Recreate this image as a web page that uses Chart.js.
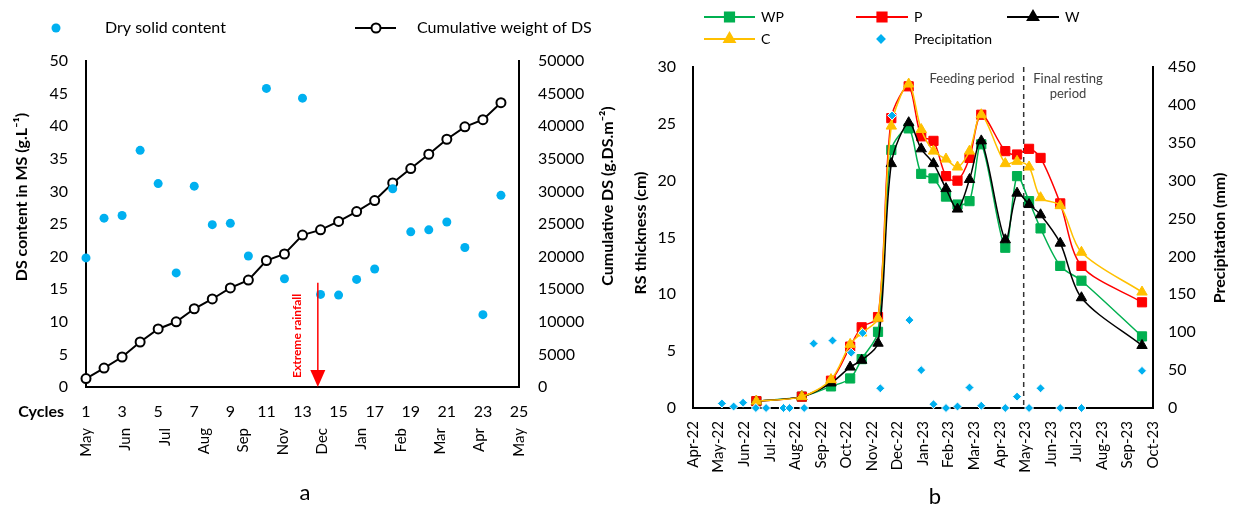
<!DOCTYPE html>
<html>
<head>
<meta charset="utf-8">
<script src="https://cdn.jsdelivr.net/npm/chart.js@4.4.1/dist/chart.umd.min.js"></script>
<style>
  html, body { margin: 0; padding: 0; background: #fff; }
  body { width: 1235px; height: 512px; position: relative; overflow: hidden; }
  #chartA { position: absolute; left: 0; top: 0; }
  #chartB { position: absolute; left: 600px; top: 0; }
</style>
</head>
<body>
<canvas id="chartA" width="640" height="512" style="width:640px;height:512px"></canvas>
<canvas id="chartB" width="635" height="512" style="width:635px;height:512px"></canvas>
<script>
// ---- panel a ----
const cycles = [1, 2, 3, 4, 5, 6, 7, 8, 9, 10, 11, 12, 13, 14, 15, 16, 17, 18, 19, 20, 21, 22, 23, 24];
const dryContent = [19.8, 25.9, 26.3, 36.3, 31.2, 17.5, 30.8, 24.9, 25.1, 20.1, 45.8, 16.6,
  44.3, 14.2, 14.1, 16.5, 18.1, 30.4, 23.8, 24.1, 25.3, 21.4, 11.1, 29.4];
const cumulativeDS = [1300, 2900, 4600, 6900, 8900, 10000, 12000, 13500, 15200, 16400, 19400, 20400,
  23300, 24100, 25400, 26900, 28600, 31300, 33500, 35700, 38000, 39900, 41000, 43600];
const cycleMonths = ["May", "Jun", "Jul", "Aug", "Sep", "Nov", "Dec", "Jan", "Feb", "Mar", "Apr", "May"];
const rainfallCycle = 13.85;
const rainfallFrom = 16;

// ---- panel b ----
const monthTicks = ["Apr-22", "May-22", "Jun-22", "Jul-22", "Aug-22", "Sep-22", "Oct-22", "Nov-22", "Dec-22",
  "Jan-23", "Feb-23", "Mar-23", "Apr-23", "May-23", "Jun-23", "Jul-23", "Aug-23", "Sep-23", "Oct-23"];
// months elapsed since 1 Apr 2022
const sampleMonths = [2.48, 4.26, 5.40, 6.15, 6.60, 7.24, 7.76, 8.44, 8.93, 9.41, 9.90, 10.35, 10.82,
  11.28, 12.22, 12.68, 13.15, 13.60, 14.37, 15.20, 17.57];
const wpThickness = [0.6, 1.0, 1.9, 2.6, 4.3, 6.7, 22.7, 24.6, 20.6, 20.2, 18.6, 17.9, 18.2,
  23.2, 14.1, 20.4, 18.2, 15.8, 12.5, 11.2, 6.3];
const pThickness = [0.6, 1.0, 2.4, 5.4, 7.1, 8.0, 25.5, 28.3, 23.9, 23.5, 20.4, 20.0, 22.0,
  25.8, 22.6, 22.3, 22.8, 22.0, 18.0, 12.5, 9.3];
const wThickness = [0.6, 1.0, 2.2, 3.6, 4.2, 5.7, 21.5, 25.1, 22.8, 21.5, 19.3, 17.5, 20.1,
  23.5, 14.8, 18.9, 17.9, 17.0, 14.5, 9.7, 5.5];
const cThickness = [0.6, 1.0, 2.5, 5.6, 6.6, 7.9, 24.8, 28.5, 24.5, 22.6, 21.9, 21.2, 22.6,
  25.8, 21.5, 21.7, 21.2, 18.5, 17.8, 13.7, 10.2];
const precipMonths = [1.13, 1.59, 1.96, 2.46, 2.86, 3.54, 3.78, 4.35, 4.72, 5.46, 6.19, 6.64, 7.33, 7.79,
  8.47, 8.93, 9.41, 9.90, 10.35, 10.82, 11.28, 12.22, 12.68, 13.15, 13.60, 14.37, 15.20, 17.57];
const precipitation = [6, 2, 7, 0, 0, 0, 0, 0, 85, 89, 73, 99, 26, 386,
  116, 50, 5, 0, 2, 27, 3, 0, 15, 0, 26, 0, 0, 49];
const feedingEnd = 12.94;

Chart.defaults.font.family = "Lato, 'Open Sans', sans-serif";
Chart.defaults.color = "#000";

const pts = (xs, ys) => xs.map((x, i) => ({ x: x, y: ys[i] }));

function vText(ctx, text, x, y, font, color) {
  ctx.save();
  ctx.translate(x, y);
  ctx.rotate(-Math.PI / 2);
  ctx.font = font;
  ctx.fillStyle = color || "#000";
  ctx.textAlign = "center";
  ctx.textBaseline = "middle";
  ctx.fillText(text, 0, 0);
  ctx.restore();
}

function text(ctx, str, x, y, font, align, color) {
  ctx.save();
  ctx.font = font;
  ctx.fillStyle = color || "#000";
  ctx.textAlign = align || "left";
  ctx.textBaseline = "middle";
  ctx.fillText(str, x, y);
  ctx.restore();
}

function legendLine(ctx, x1, x2, y, color, style, radius) {
  ctx.save();
  ctx.strokeStyle = color;
  ctx.fillStyle = color;
  ctx.lineWidth = 2;
  if (x2 > x1) {
    ctx.beginPath();
    ctx.moveTo(x1, y);
    ctx.lineTo(x2, y);
    ctx.stroke();
  }
  Chart.helpers.drawPoint(ctx, { pointStyle: style, radius: radius, borderWidth: 1, rotation: 0 }, (x1 + x2) / 2, y);
  ctx.restore();
}

const decorA = {
  id: "decorA",
  afterDatasetsDraw(chart) {
    const ctx = chart.ctx;
    const x = chart.scales.x, y = chart.scales.y;
    const ax = x.getPixelForValue(rainfallCycle);
    const top = y.getPixelForValue(rainfallFrom);
    const bot = y.getPixelForValue(0);
    ctx.save();
    ctx.strokeStyle = "#FF0000";
    ctx.fillStyle = "#FF0000";
    ctx.lineWidth = 1.5;
    ctx.beginPath();
    ctx.moveTo(ax, top);
    ctx.lineTo(ax, bot - 15);
    ctx.stroke();
    ctx.beginPath();
    ctx.moveTo(ax - 7.5, bot - 17);
    ctx.lineTo(ax + 7.5, bot - 17);
    ctx.lineTo(ax, bot);
    ctx.closePath();
    ctx.fill();
    ctx.restore();
    vText(ctx, "Extreme rainfall", ax - 21, (top + bot) / 2 + 1, "bold 12px Lato, sans-serif", "#FF0000");
  },
  afterDraw(chart) {
    const ctx = chart.ctx;
    vText(ctx, "DS content in MS (g.L\u207B\u00B9)", 22, 197, "bold 16px Lato, sans-serif");
    vText(ctx, "Cumulative DS (g.DS.m\u207B\u00B2)", 608, 196, "bold 16px Lato, sans-serif");
    text(ctx, "Cycles", 64, 412, "bold 16px Lato, sans-serif", "right");
    text(ctx, "a", 305, 493, "22px Lato, sans-serif", "center");
    // legend
    ctx.save();
    ctx.fillStyle = "#00B0F0";
    ctx.beginPath();
    ctx.arc(56, 28, 4.5, 0, Math.PI * 2);
    ctx.fill();
    ctx.strokeStyle = "#000";
    ctx.lineWidth = 2;
    ctx.beginPath();
    ctx.moveTo(355, 28);
    ctx.lineTo(396, 28);
    ctx.stroke();
    ctx.fillStyle = "#fff";
    ctx.beginPath();
    ctx.arc(376, 28, 4.5, 0, Math.PI * 2);
    ctx.fill();
    ctx.stroke();
    ctx.restore();
    text(ctx, "Dry solid content", 105, 28, "16px Lato, sans-serif");
    text(ctx, "Cumulative weight of DS", 417, 28, "16px Lato, sans-serif");
  }
};

new Chart(document.getElementById("chartA"), {
  type: "scatter",
  data: {
    datasets: [
      {
        label: "Dry solid content",
        data: pts(cycles, dryContent),
        xAxisID: "x",
        yAxisID: "y",
        showLine: false,
        backgroundColor: "#00B0F0",
        borderColor: "#00B0F0",
        pointRadius: 4.5,
        pointBorderWidth: 0,
        clip: false,
        order: 0
      },
      {
        label: "Cumulative weight of DS",
        data: pts(cycles, cumulativeDS),
        xAxisID: "x",
        yAxisID: "y1",
        showLine: true,
        borderColor: "#000",
        borderWidth: 2,
        pointRadius: 4.5,
        pointBackgroundColor: "#fff",
        pointBorderColor: "#000",
        pointBorderWidth: 2,
        tension: 0,
        clip: false,
        order: 1
      }
    ]
  },
  options: {
    responsive: false,
    animation: false,
    events: [],
    layout: { padding: { left: 0, right: 0, top: 61, bottom: 37 } },
    plugins: { legend: { display: false }, tooltip: { enabled: false } },
    scales: {
      x: {
        type: "linear", position: "bottom", weight: 0, min: 1, max: 25,
        grid: { display: false, drawTicks: false },
        border: { color: "#000", width: 2 },
        ticks: { stepSize: 2, padding: 15, maxRotation: 0, autoSkip: false, font: { size: 16 } },
        afterFit: s => { s.height = 38; }
      },
      xm: {
        type: "category", position: "bottom", weight: 1, labels: cycleMonths, offset: false,
        grid: { display: false, drawTicks: false },
        border: { display: false },
        ticks: { minRotation: 90, maxRotation: 90, autoSkip: false, padding: 3, font: { size: 15 } },
        afterFit: s => { s.height = 50; }
      },
      y: {
        position: "left", min: 0, max: 50,
        grid: { display: false, drawTicks: false },
        border: { color: "#000", width: 2 },
        ticks: { stepSize: 5, padding: 18, font: { size: 16 } },
        afterFit: s => { s.width = 86; }
      },
      y1: {
        position: "right", min: 0, max: 50000,
        grid: { display: false, drawTicks: false },
        border: { color: "#000", width: 2 },
        ticks: { stepSize: 5000, padding: 19, font: { size: 16 }, callback: v => String(v) },
        afterFit: s => { s.width = 121; }
      }
    }
  },
  plugins: [decorA]
});

const decorB = {
  id: "decorB",
  beforeDatasetsDraw(chart) {
    const ctx = chart.ctx;
    const xp = chart.scales.x.getPixelForValue(feedingEnd);
    const area = chart.chartArea;
    ctx.save();
    ctx.strokeStyle = "#333";
    ctx.lineWidth = 1.5;
    ctx.setLineDash([5, 4]);
    ctx.beginPath();
    ctx.moveTo(xp, area.top);
    ctx.lineTo(xp, area.bottom);
    ctx.stroke();
    ctx.restore();
  },
  afterDraw(chart) {
    const ctx = chart.ctx;
    const gray = "#404040";
    text(ctx, "Feeding period", 372, 79, "13px Lato, sans-serif", "center", gray);
    text(ctx, "Final resting", 468, 79, "13px Lato, sans-serif", "center", gray);
    text(ctx, "period", 468, 94, "13px Lato, sans-serif", "center", gray);
    vText(ctx, "RS thickness (cm)", 41, 233, "bold 16px Lato, sans-serif");
    vText(ctx, "Precipitation (mm)", 620, 238, "bold 16px Lato, sans-serif");
    text(ctx, "b", 335, 497, "22px Lato, sans-serif", "center");
    // legend
    legendLine(ctx, 104, 155, 17, "#00B050", "rect", 6.5);
    text(ctx, "WP", 161, 17, "14px Lato, sans-serif");
    legendLine(ctx, 256, 308, 17, "#FF0000", "rect", 6.5);
    text(ctx, "P", 314, 17, "14px Lato, sans-serif");
    legendLine(ctx, 407, 459, 17, "#000000", "triangle", 6);
    text(ctx, "W", 465, 17, "14px Lato, sans-serif");
    legendLine(ctx, 104, 155, 39, "#FFC000", "triangle", 6);
    text(ctx, "C", 161, 39, "14px Lato, sans-serif");
    legendLine(ctx, 281, 281, 39, "#00B0F0", "rectRot", 3.5);
    text(ctx, "Precipitation", 314, 39, "14px Lato, sans-serif");
  }
};

function thicknessSet(label, values, color, style, radius, order) {
  return {
    label: label,
    data: pts(sampleMonths, values),
    yAxisID: "y",
    showLine: true,
    borderColor: color,
    backgroundColor: color,
    borderWidth: 1.5,
    pointStyle: style,
    pointRadius: radius,
    pointBorderWidth: 1,
    tension: 0.3,
    clip: false,
    order: order
  };
}

new Chart(document.getElementById("chartB"), {
  type: "scatter",
  data: {
    datasets: [
      thicknessSet("WP", wpThickness, "#00B050", "rect", 6.5, 4),
      thicknessSet("P", pThickness, "#FF0000", "rect", 6.5, 3),
      thicknessSet("W", wThickness, "#000000", "triangle", 6, 2),
      thicknessSet("C", cThickness, "#FFC000", "triangle", 6, 1),
      {
        label: "Precipitation",
        data: pts(precipMonths, precipitation),
        yAxisID: "y1",
        showLine: false,
        backgroundColor: "#00B0F0",
        borderColor: "#fff",
        pointStyle: "rectRot",
        pointRadius: 4.5,
        pointBorderWidth: 1,
        clip: false,
        order: 0
      }
    ]
  },
  options: {
    responsive: false,
    animation: false,
    events: [],
    layout: { padding: { left: 0, right: 0, top: 67, bottom: 34 } },
    plugins: { legend: { display: false }, tooltip: { enabled: false } },
    scales: {
      x: {
        type: "linear", position: "bottom", min: 0, max: 18,
        grid: { display: false, drawTicks: false },
        border: { color: "#000", width: 2 },
        ticks: {
          stepSize: 1, autoSkip: false, minRotation: 90, maxRotation: 90, padding: 13,
          font: { size: 15 },
          callback: v => monthTicks[v]
        },
        afterFit: s => { s.height = 70; }
      },
      y: {
        position: "left", min: 0, max: 30,
        grid: { display: false, drawTicks: false },
        border: { color: "#000", width: 2 },
        ticks: { stepSize: 5, padding: 17, font: { size: 16 } },
        afterFit: s => { s.width = 93; }
      },
      y1: {
        position: "right", min: 0, max: 450,
        grid: { display: false, drawTicks: false },
        border: { color: "#000", width: 2 },
        ticks: { stepSize: 50, padding: 15, font: { size: 16 } },
        afterFit: s => { s.width = 82; }
      }
    }
  },
  plugins: [decorB]
});
</script>
</body>
</html>
